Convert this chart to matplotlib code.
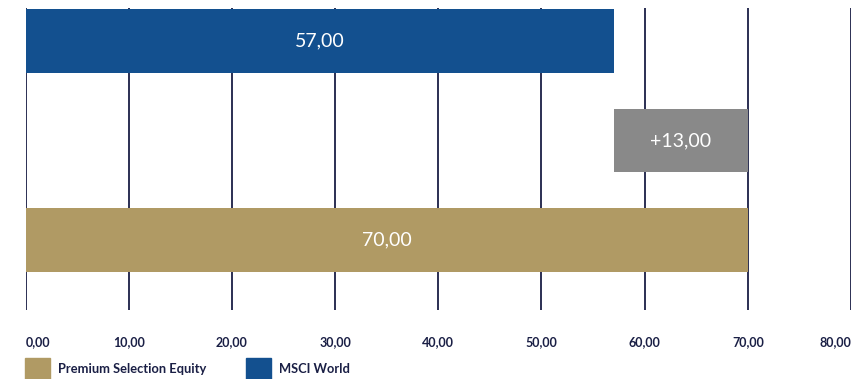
import matplotlib
matplotlib.use("Agg")
import matplotlib.pyplot as plt
from matplotlib.patches import Rectangle

# data
msci_world = 57.0
premium_equity = 70.0
difference = premium_equity - msci_world
x_ticks = [0, 10, 20, 30, 40, 50, 60, 70, 80]
legend_labels = ["Premium Selection Equity", "MSCI World"]

BLUE = "#13508f"
GOLD = "#b09a64"
GREY = "#898989"
NAVY = "#1a1f45"

plt.rcParams["font.family"] = ["Lato", "DejaVu Sans"]

fig = plt.figure(figsize=(8.58, 3.79), dpi=100)
ax = fig.add_axes([25.5 / 858, 1 - 310 / 379, (851 - 25.5) / 858, (310 - 8) / 379])

h = 0.64
ax.barh(0, msci_world, height=h, color=BLUE, zorder=3)
ax.barh(1, difference, left=msci_world, height=h, color=GREY, zorder=3)
ax.barh(2, premium_equity, height=h, color=GOLD, zorder=3)

lab_kw = dict(ha="center", va="center", color="white", fontsize=14, zorder=4)
ax.text(msci_world / 2, 0, f"{msci_world:.2f}".replace(".", ","), **lab_kw)
ax.text(msci_world + difference / 2, 1, f"+{difference:.2f}".replace(".", ","), **lab_kw)
ax.text(premium_equity / 2, 2, f"{premium_equity:.2f}".replace(".", ","), **lab_kw)

for x in x_ticks:
    ax.axvline(x, color=NAVY, lw=1.3, zorder=1)

ax.set_xlim(0, 80)
ax.set_ylim(2.70, -0.33)
ax.set_xticks(x_ticks)
ax.set_xticklabels([f"{x:.2f}".replace(".", ",") for x in x_ticks],
                   fontsize=9, color=NAVY, fontweight="bold")
ax.tick_params(axis="x", length=0, pad=19)
labels = ax.get_xticklabels()
labels[0].set_ha("left")
labels[-1].set_ha("right")
ax.set_yticks([])
for s in ax.spines.values():
    s.set_visible(False)

# legend
colors = [GOLD, BLUE]
xs = [25, 246]
for lab, c, x0 in zip(legend_labels, colors, xs):
    fig.patches.append(Rectangle((x0 / 858, 0), 25 / 858, 21 / 379,
                                 transform=fig.transFigure, color=c))
    fig.text((x0 + 33) / 858, 1 - 369 / 379, lab, fontsize=9.3, color=NAVY,
             fontweight="bold", va="center")

fig.savefig("out.png", dpi=100)
